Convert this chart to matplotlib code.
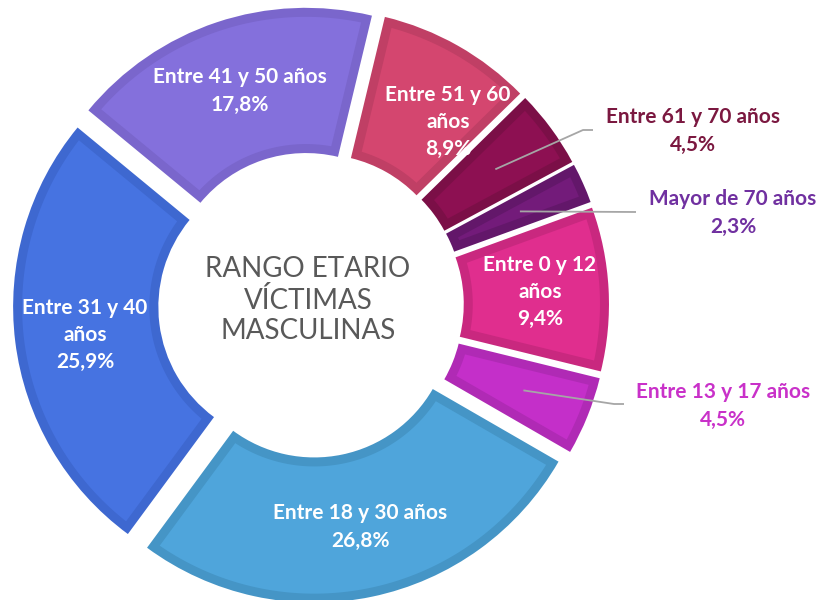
import matplotlib
matplotlib.use("Agg")
import matplotlib.pyplot as plt
from matplotlib.patches import Polygon
import numpy as np

# ---- data ----
categories = ["Entre 0 y 12 años", "Entre 13 y 17 años", "Entre 18 y 30 años",
              "Entre 31 y 40 años", "Entre 41 y 50 años", "Entre 51 y 60 años",
              "Entre 61 y 70 años", "Mayor de 70 años"]
values = [9.4, 4.5, 26.8, 25.9, 17.8, 8.9, 4.5, 2.3]
label_texts = ["Entre 0 y 12\naños\n9,4%", "Entre 13 y 17 años\n4,5%",
               "Entre 18 y 30 años\n26,8%", "Entre 31 y 40\naños\n25,9%",
               "Entre 41 y 50 años\n17,8%", "Entre 51 y 60\naños\n8,9%",
               "Entre 61 y 70 años\n4,5%", "Mayor de 70 años\n2,3%"]
center_title = "RANGO ETARIO\nVÍCTIMAS\nMASCULINAS"

# ---- style ----
fill_colors = ["#E02E8E", "#C42FC9", "#4FA5DB", "#4673E1", "#8470DC",
               "#D4466F", "#8D1052", "#731B7A"]
edge_colors = ["#C9287F", "#B02AB5", "#4595C6", "#3E68D0", "#7A66CC",
               "#C03F65", "#7B0F47", "#63176A"]
text_colors = ["white", "#C931C9", "white", "white", "white", "white",
               "#7B1840", "#7030A0"]
# label anchor positions in pixel coordinates (x, y from top)
label_pos = [(540, 292), (723, 406), (360, 527), (85, 335), (240, 91),
             (448, 122), (693, 131), (733, 213)]
leader_end = {1: (614, 404), 6: (583, 130), 7: (636, 212)}
leader_tail = {1: 10, 6: 10, 7: 0}

W, H = 830, 600
CX, CY = 311, H - 305
R = 282
RING = 0.515
EXPL = 16
BORDER_PX = 9

fig = plt.figure(figsize=(W / 100, H / 100), dpi=100)
ax = fig.add_axes([0, 0, 1, 1])

wedges, _ = ax.pie(values, startangle=20, counterclock=False,
                   colors=edge_colors, center=(CX, CY), radius=R,
                   explode=[EXPL] * len(values),
                   wedgeprops=dict(width=R * RING, linewidth=0))
ax.set_xlim(0, W)
ax.set_ylim(0, H)
ax.set_aspect("equal")
ax.axis("off")


def inset_polygon(w, b):
    cx, cy = w.center
    ro = w.r - b
    ri = w.r - w.width + b
    t1, t2 = np.deg2rad(w.theta1), np.deg2rad(w.theta2)
    a_o = np.arcsin(b / ro)
    a_i = np.arcsin(b / ri)
    th_out = np.linspace(t1 + a_o, t2 - a_o, 120)
    th_in = np.linspace(t2 - a_i, t1 + a_i, 120)
    xs = np.concatenate([cx + ro * np.cos(th_out), cx + ri * np.cos(th_in)])
    ys = np.concatenate([cy + ro * np.sin(th_out), cy + ri * np.sin(th_in)])
    return np.column_stack([xs, ys])


for w, fc in zip(wedges, fill_colors):
    ax.add_patch(Polygon(inset_polygon(w, BORDER_PX), closed=True,
                         facecolor=fc, edgecolor="none", zorder=w.get_zorder() + 0.1))

font_lab = ["Lato", "DejaVu Sans"]
for i, (txt, (px, py)) in enumerate(zip(label_texts, label_pos)):
    ax.text(px, H - py, txt, ha="center", va="center", color=text_colors[i],
            fontsize=15, fontweight="bold", family=font_lab,
            linespacing=1.45, zorder=5)

for i, (ex, ey) in leader_end.items():
    w = wedges[i]
    mid = np.deg2rad((w.theta1 + w.theta2) / 2)
    wx, wy = w.center
    rr = R * 0.755
    sx, sy = wx + rr * np.cos(mid), wy + rr * np.sin(mid)
    xs = [sx, ex, ex + leader_tail[i]]
    ys = [sy, H - ey, H - ey]
    ax.plot(xs, ys, color="#A6A6A6", lw=1.3, zorder=4, solid_capstyle="butt")

ax.text(308, H - 300, center_title, ha="center", va="center",
        color="#595959", fontsize=20, family=["Lato", "DejaVu Sans"],
        linespacing=1.19, zorder=5)

fig.savefig("out.png", dpi=100)
